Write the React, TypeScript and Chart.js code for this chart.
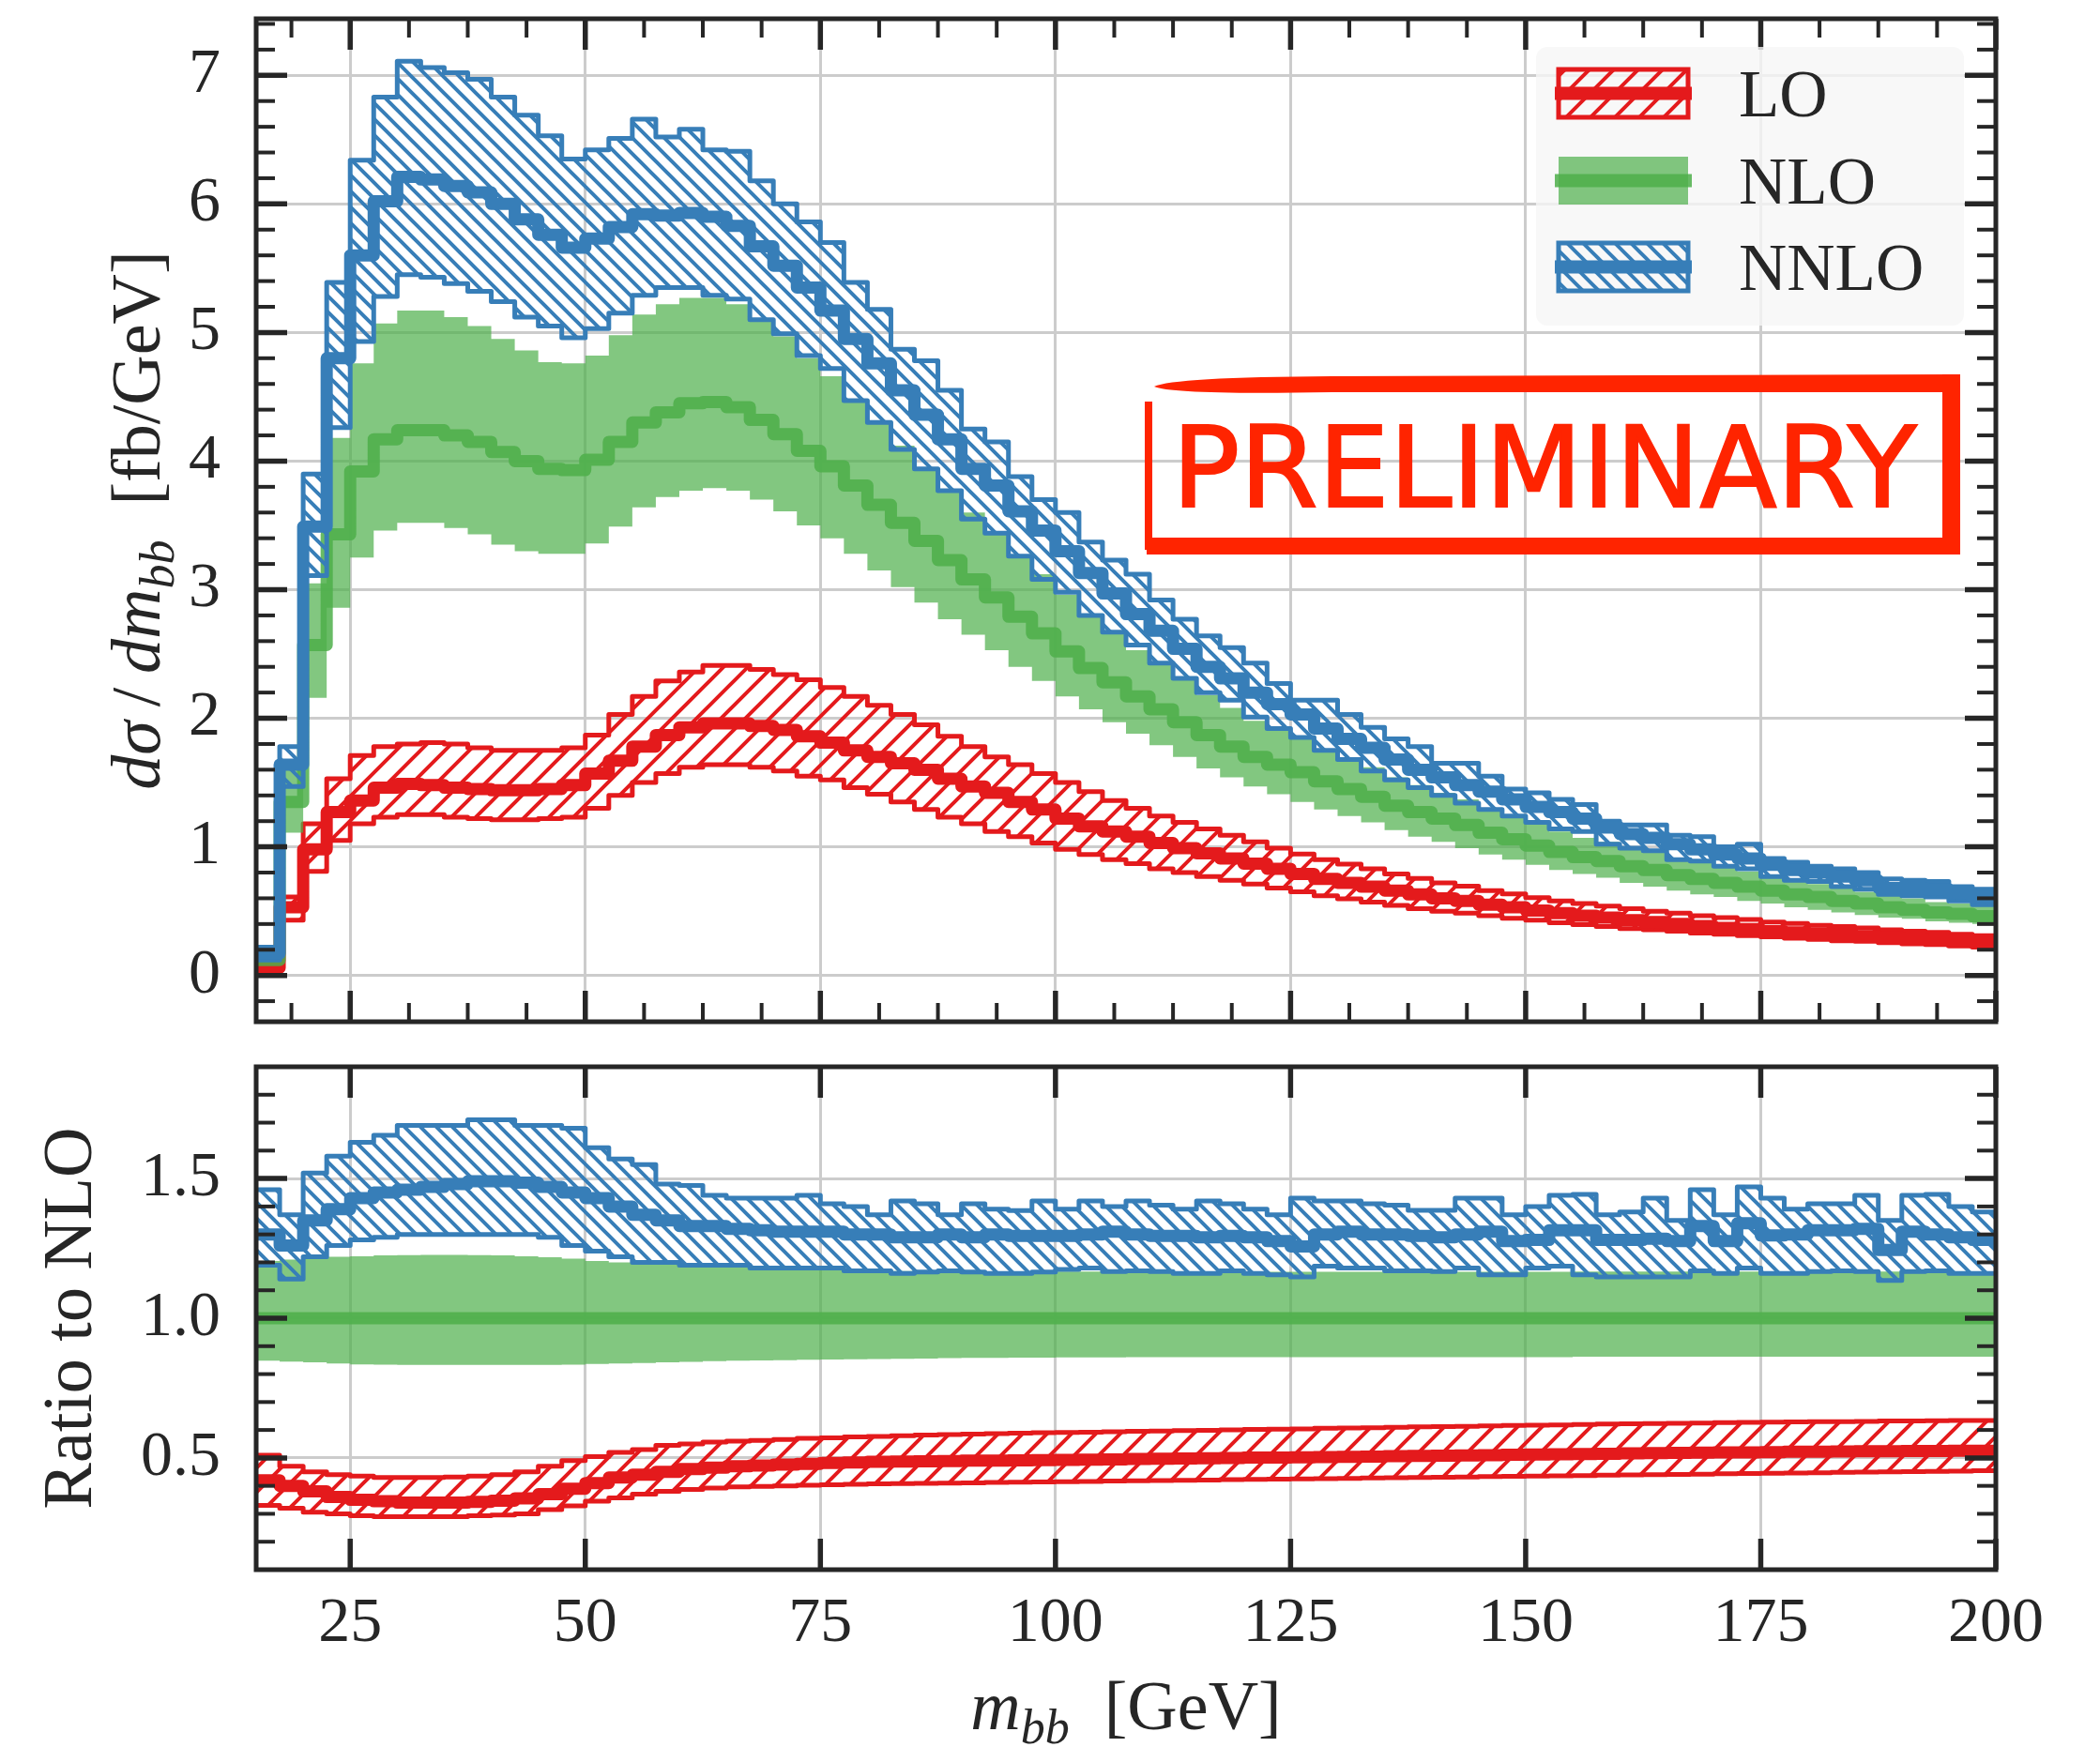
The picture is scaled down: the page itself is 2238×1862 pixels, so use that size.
import React, { useEffect, useRef } from 'react';
import { Chart, registerables } from 'chart.js';

Chart.register(...registerables);

// ---------------- data ----------------
const BIN_EDGES = [
  15, 17.5, 20, 22.5, 25, 27.5, 30, 32.5, 35, 37.5, 40, 42.5, 45, 47.5, 50, 52.5, 55, 57.5, 60, 62.5,
  65, 67.5, 70, 72.5, 75, 77.5, 80, 82.5, 85, 87.5, 90, 92.5, 95, 97.5, 100, 102.5, 105, 107.5, 110, 112.5,
  115, 117.5, 120, 122.5, 125, 127.5, 130, 132.5, 135, 137.5, 140, 142.5, 145, 147.5, 150, 152.5, 155, 157.5, 160, 162.5,
  165, 167.5, 170, 172.5, 175, 177.5, 180, 182.5, 185, 187.5, 190, 192.5, 195, 197.5, 200,
];

const X_TICKS = [25, 50, 75, 100, 125, 150, 175, 200];
const X_TICK_LABELS = ['25', '50', '75', '100', '125', '150', '175', '200'];
const Y_TICKS_MAIN = [0, 1, 2, 3, 4, 5, 6, 7];
const Y_TICK_LABELS_MAIN = ['0', '1', '2', '3', '4', '5', '6', '7'];
const Y_TICKS_RATIO = [0.5, 1.0, 1.5];
const Y_TICK_LABELS_RATIO = ['0.5', '1.0', '1.5'];
const LEGEND_LABELS = ['LO', 'NLO', 'NNLO'];

// top panel: dsigma/dm_bb [fb/GeV]
const LO_CENTRAL = [
  0.06, 0.53, 0.98, 1.27, 1.36, 1.46, 1.49, 1.48, 1.46, 1.45,
  1.44, 1.44, 1.45, 1.48, 1.57, 1.67, 1.78, 1.87, 1.93, 1.96,
  1.96, 1.94, 1.91, 1.86, 1.81, 1.75, 1.70, 1.65, 1.60, 1.53,
  1.47, 1.42, 1.35, 1.29, 1.22, 1.16, 1.12, 1.08, 1.03, 0.99,
  0.95, 0.91, 0.87, 0.83, 0.79, 0.75, 0.72, 0.69, 0.66, 0.63,
  0.60, 0.58, 0.55, 0.53, 0.505, 0.485, 0.465, 0.45, 0.43, 0.415,
  0.40, 0.385, 0.37, 0.36, 0.345, 0.335, 0.325, 0.315, 0.305, 0.295,
  0.285, 0.275, 0.265, 0.255,
];
const LO_UPPER = [
  0.10, 0.61, 1.18, 1.53, 1.71, 1.78, 1.80, 1.81, 1.80, 1.77,
  1.75, 1.75, 1.75, 1.77, 1.87, 2.03, 2.17, 2.29, 2.36, 2.41,
  2.41, 2.38, 2.34, 2.30, 2.24, 2.17, 2.10, 2.03, 1.95, 1.86,
  1.78, 1.70, 1.64, 1.57, 1.50, 1.43, 1.36, 1.30, 1.24, 1.19,
  1.14, 1.09, 1.04, 0.99, 0.945, 0.90, 0.865, 0.83, 0.79, 0.755,
  0.72, 0.695, 0.66, 0.635, 0.605, 0.58, 0.56, 0.54, 0.52, 0.50,
  0.485, 0.465, 0.45, 0.435, 0.415, 0.405, 0.39, 0.38, 0.37, 0.355,
  0.345, 0.335, 0.32, 0.31,
];
const LO_LOWER = [
  0.03, 0.43, 0.81, 1.05, 1.18, 1.23, 1.25, 1.25, 1.23, 1.22,
  1.21, 1.21, 1.22, 1.23, 1.30, 1.40, 1.50, 1.57, 1.62, 1.64,
  1.64, 1.62, 1.59, 1.55, 1.52, 1.46, 1.41, 1.35, 1.29, 1.23,
  1.18, 1.12, 1.08, 1.03, 0.98, 0.94, 0.90, 0.87, 0.83, 0.80,
  0.77, 0.74, 0.71, 0.68, 0.65, 0.62, 0.595, 0.57, 0.545, 0.52,
  0.50, 0.485, 0.465, 0.445, 0.43, 0.41, 0.395, 0.38, 0.365, 0.355,
  0.345, 0.33, 0.32, 0.31, 0.30, 0.29, 0.28, 0.27, 0.265, 0.255,
  0.245, 0.24, 0.23, 0.22,
];

const NLO_CENTRAL = [
  0.12, 1.35, 2.57, 3.43, 3.92, 4.17, 4.24, 4.24, 4.20, 4.15,
  4.07, 4.00, 3.94, 3.93, 4.01, 4.15, 4.30, 4.38, 4.45, 4.46,
  4.42, 4.32, 4.21, 4.08, 3.96, 3.81, 3.66, 3.52, 3.38, 3.23,
  3.08, 2.94, 2.79, 2.66, 2.52, 2.39, 2.28, 2.17, 2.07, 1.97,
  1.87, 1.78, 1.70, 1.64, 1.58, 1.51, 1.45, 1.39, 1.32, 1.27,
  1.22, 1.17, 1.11, 1.06, 1.01, 0.96, 0.92, 0.89, 0.85, 0.82,
  0.78, 0.75, 0.72, 0.69, 0.66, 0.63, 0.61, 0.58, 0.56, 0.53,
  0.51, 0.49, 0.48, 0.46,
];
const NLO_LOWER = [
  0.10, 1.11, 2.16, 2.86, 3.25, 3.46, 3.52, 3.52, 3.48, 3.43,
  3.35, 3.30, 3.28, 3.28, 3.36, 3.49, 3.64, 3.72, 3.77, 3.79,
  3.77, 3.70, 3.61, 3.50, 3.40, 3.28, 3.15, 3.02, 2.90, 2.77,
  2.65, 2.53, 2.40, 2.29, 2.17, 2.07, 1.97, 1.88, 1.79, 1.70,
  1.61, 1.54, 1.47, 1.41, 1.35, 1.29, 1.24, 1.19, 1.13, 1.08,
  1.04, 0.99, 0.94, 0.90, 0.86, 0.82, 0.79, 0.76, 0.72, 0.69,
  0.66, 0.63, 0.61, 0.58, 0.56, 0.53, 0.51, 0.49, 0.47, 0.45,
  0.44, 0.42, 0.41, 0.40,
];
const NLO_UPPER = [
  0.15, 1.61, 3.05, 4.18, 4.76, 5.07, 5.17, 5.17, 5.12, 5.05,
  4.95, 4.86, 4.77, 4.76, 4.82, 4.98, 5.14, 5.22, 5.27, 5.27,
  5.22, 5.10, 4.97, 4.80, 4.66, 4.47, 4.29, 4.12, 3.95, 3.77,
  3.60, 3.44, 3.27, 3.12, 2.96, 2.80, 2.66, 2.53, 2.42, 2.30,
  2.18, 2.08, 1.98, 1.91, 1.84, 1.76, 1.69, 1.62, 1.54, 1.48,
  1.42, 1.37, 1.30, 1.24, 1.18, 1.12, 1.07, 1.04, 0.99, 0.96,
  0.91, 0.88, 0.84, 0.81, 0.77, 0.74, 0.71, 0.68, 0.65, 0.62,
  0.60, 0.57, 0.56, 0.54,
];

const NNLO_CENTRAL = [
  0.17, 1.64, 3.49, 4.80, 5.60, 6.02, 6.21, 6.19, 6.14, 6.09,
  6.00, 5.88, 5.76, 5.66, 5.73, 5.82, 5.92, 5.91, 5.93, 5.90,
  5.83, 5.67, 5.52, 5.35, 5.17, 4.95, 4.76, 4.55, 4.36, 4.17,
  3.94, 3.81, 3.61, 3.46, 3.30, 3.13, 2.97, 2.81, 2.68, 2.54,
  2.40, 2.31, 2.20, 2.11, 2.03, 1.92, 1.84, 1.77, 1.68, 1.60,
  1.54, 1.48, 1.43, 1.37, 1.31, 1.27, 1.22, 1.15, 1.10, 1.07,
  1.02, 0.98, 0.94, 0.91, 0.86, 0.82, 0.80, 0.77, 0.74, 0.68,
  0.68, 0.67, 0.64, 0.61,
];
const NNLO_UPPER = [
  0.22, 1.78, 3.90, 5.39, 6.34, 6.83, 7.11, 7.06, 7.02, 6.97,
  6.83, 6.69, 6.53, 6.35, 6.42, 6.51, 6.66, 6.52, 6.58, 6.42,
  6.41, 6.18, 6.00, 5.86, 5.70, 5.39, 5.18, 4.87, 4.78, 4.55,
  4.25, 4.15, 3.88, 3.70, 3.60, 3.37, 3.23, 3.12, 2.92, 2.77,
  2.64, 2.55, 2.43, 2.27, 2.14, 2.14, 2.03, 1.93, 1.84, 1.78,
  1.65, 1.65, 1.55, 1.45, 1.42, 1.37, 1.33, 1.20, 1.17, 1.17,
  1.09, 1.08, 1.00, 1.02, 0.91, 0.88, 0.85, 0.83, 0.80, 0.75,
  0.74, 0.73, 0.69, 0.67,
];
const NNLO_LOWER = [
  0.12, 1.47, 3.11, 4.26, 4.93, 5.28, 5.45, 5.43, 5.38, 5.32,
  5.24, 5.12, 5.05, 4.96, 5.03, 5.15, 5.29, 5.35, 5.35, 5.29,
  5.26, 5.10, 4.99, 4.82, 4.72, 4.47, 4.30, 4.09, 3.94, 3.77,
  3.55, 3.44, 3.26, 3.08, 2.98, 2.80, 2.67, 2.57, 2.43, 2.31,
  2.20, 2.14, 2.01, 1.92, 1.85, 1.75, 1.68, 1.59, 1.52, 1.46,
  1.40, 1.34, 1.29, 1.24, 1.19, 1.14, 1.12, 1.02, 0.99, 0.97,
  0.90, 0.89, 0.85, 0.83, 0.77, 0.74, 0.73, 0.69, 0.67, 0.63,
  0.62, 0.61, 0.58, 0.55,
];

// bottom panel: ratio to NLO
const LO_RATIO_CENTRAL = [
  0.42, 0.40, 0.38, 0.36, 0.35, 0.345, 0.34, 0.34, 0.34, 0.343,
  0.347, 0.355, 0.37, 0.39, 0.41, 0.43, 0.44, 0.45, 0.46, 0.465,
  0.47, 0.473, 0.476, 0.479, 0.482, 0.484, 0.486, 0.487, 0.488, 0.489,
  0.49, 0.49, 0.491, 0.492, 0.493, 0.494, 0.495, 0.496, 0.497, 0.498,
  0.499, 0.50, 0.501, 0.501, 0.502, 0.503, 0.504, 0.505, 0.506, 0.507,
  0.508, 0.509, 0.51, 0.511, 0.512, 0.513, 0.514, 0.515, 0.516, 0.517,
  0.518, 0.519, 0.52, 0.52, 0.521, 0.522, 0.522, 0.523, 0.524, 0.524,
  0.525, 0.525, 0.526, 0.526,
];
const LO_RATIO_UPPER = [
  0.51, 0.47, 0.45, 0.44, 0.435, 0.43, 0.43, 0.43, 0.432, 0.435,
  0.44, 0.45, 0.47, 0.49, 0.505, 0.52, 0.53, 0.545, 0.55, 0.557,
  0.56, 0.563, 0.566, 0.57, 0.572, 0.575, 0.577, 0.579, 0.582, 0.584,
  0.585, 0.587, 0.589, 0.59, 0.591, 0.592, 0.594, 0.595, 0.596, 0.598,
  0.599, 0.60, 0.602, 0.603, 0.604, 0.606, 0.607, 0.608, 0.61, 0.611,
  0.612, 0.613, 0.615, 0.616, 0.617, 0.618, 0.62, 0.621, 0.622, 0.623,
  0.624, 0.625, 0.626, 0.627, 0.628, 0.629, 0.63, 0.63, 0.631, 0.632,
  0.632, 0.633, 0.634, 0.634,
];
const LO_RATIO_LOWER = [
  0.33, 0.32, 0.306, 0.30, 0.293, 0.29, 0.29, 0.29, 0.29, 0.293,
  0.296, 0.30, 0.315, 0.328, 0.345, 0.357, 0.37, 0.38, 0.387, 0.392,
  0.396, 0.398, 0.40, 0.402, 0.404, 0.406, 0.407, 0.408, 0.409, 0.41,
  0.411, 0.412, 0.413, 0.414, 0.415, 0.416, 0.417, 0.418, 0.419, 0.42,
  0.421, 0.422, 0.423, 0.424, 0.425, 0.426, 0.427, 0.428, 0.429, 0.43,
  0.431, 0.432, 0.433, 0.434, 0.435, 0.436, 0.437, 0.438, 0.439, 0.44,
  0.441, 0.442, 0.443, 0.444, 0.445, 0.446, 0.447, 0.448, 0.449, 0.45,
  0.451, 0.452, 0.453, 0.454,
];
const NLO_RATIO_CENTRAL = [1.0, 1.0];
const NLO_RATIO_UPPER = [
  1.205, 1.21, 1.215, 1.22, 1.222, 1.225, 1.226, 1.227, 1.227, 1.226,
  1.225, 1.222, 1.218, 1.213, 1.205, 1.20, 1.196, 1.192, 1.189, 1.186,
  1.183, 1.18, 1.178, 1.175, 1.172, 1.171, 1.17, 1.169, 1.169, 1.168,
  1.168, 1.168, 1.167, 1.167, 1.167, 1.167, 1.167, 1.167, 1.166, 1.166,
  1.166, 1.166, 1.166, 1.166, 1.166, 1.166, 1.166, 1.166, 1.166, 1.166,
  1.166, 1.166, 1.166, 1.166, 1.166, 1.166, 1.167, 1.167, 1.167, 1.167,
  1.167, 1.167, 1.167, 1.167, 1.167, 1.167, 1.167, 1.167, 1.167, 1.167,
  1.167, 1.167, 1.167, 1.167,
];
const NLO_RATIO_LOWER = [
  0.848, 0.845, 0.842, 0.838, 0.835, 0.834, 0.833, 0.833, 0.833, 0.833,
  0.833, 0.833, 0.833, 0.834, 0.836, 0.838, 0.84, 0.842, 0.844, 0.846,
  0.848, 0.849, 0.85, 0.851, 0.852, 0.853, 0.854, 0.855, 0.856, 0.857,
  0.858, 0.858, 0.859, 0.859, 0.86, 0.86, 0.86, 0.861, 0.861, 0.861,
  0.861, 0.861, 0.861, 0.861, 0.861, 0.861, 0.861, 0.861, 0.861, 0.861,
  0.861, 0.861, 0.861, 0.861, 0.861, 0.861, 0.862, 0.862, 0.862, 0.862,
  0.862, 0.862, 0.862, 0.862, 0.862, 0.862, 0.862, 0.862, 0.862, 0.862,
  0.862, 0.862, 0.862, 0.862,
];
const NNLO_RATIO_CENTRAL = [
  1.30, 1.26, 1.35, 1.39, 1.43, 1.45, 1.46, 1.47, 1.48, 1.49,
  1.49, 1.485, 1.47, 1.45, 1.43, 1.40, 1.37, 1.35, 1.33, 1.33,
  1.32, 1.315, 1.31, 1.31, 1.31, 1.30, 1.30, 1.29, 1.29, 1.30,
  1.29, 1.30, 1.295, 1.295, 1.295, 1.30, 1.31, 1.30, 1.295, 1.295,
  1.29, 1.295, 1.29, 1.276, 1.257, 1.30, 1.31, 1.30, 1.30, 1.295,
  1.29, 1.30, 1.31, 1.276, 1.28, 1.315, 1.315, 1.28, 1.28, 1.285,
  1.276, 1.33, 1.276, 1.34, 1.296, 1.30, 1.315, 1.315, 1.32, 1.244,
  1.31, 1.30, 1.29, 1.28,
];
const NNLO_RATIO_UPPER = [
  1.46, 1.37, 1.52, 1.58, 1.63, 1.655, 1.69, 1.69, 1.69, 1.71,
  1.71, 1.69, 1.69, 1.68, 1.61, 1.57, 1.55, 1.48, 1.475, 1.44,
  1.43, 1.43, 1.43, 1.44, 1.41, 1.40, 1.37, 1.42, 1.41, 1.37,
  1.41, 1.39, 1.385, 1.42, 1.39, 1.42, 1.40, 1.42, 1.405, 1.39,
  1.42, 1.41, 1.39, 1.37, 1.43, 1.42, 1.42, 1.41, 1.405, 1.386,
  1.386, 1.43, 1.43, 1.37, 1.40, 1.44, 1.443, 1.37, 1.38, 1.43,
  1.35, 1.46, 1.37, 1.47, 1.43, 1.39, 1.41, 1.41, 1.44, 1.35,
  1.44, 1.443, 1.40, 1.38,
];
const NNLO_RATIO_LOWER = [
  1.19, 1.14, 1.22, 1.26, 1.28, 1.29, 1.30, 1.30, 1.30, 1.30,
  1.30, 1.30, 1.29, 1.26, 1.24, 1.22, 1.20, 1.20, 1.19, 1.19,
  1.19, 1.18, 1.18, 1.18, 1.18, 1.17, 1.17, 1.16, 1.165, 1.17,
  1.165, 1.16, 1.16, 1.165, 1.175, 1.18, 1.167, 1.17, 1.167, 1.16,
  1.16, 1.17, 1.16, 1.155, 1.148, 1.186, 1.18, 1.18, 1.17, 1.17,
  1.167, 1.18, 1.155, 1.155, 1.18, 1.186, 1.155, 1.148, 1.148, 1.148,
  1.148, 1.17, 1.16, 1.18, 1.16, 1.16, 1.167, 1.17, 1.167, 1.135,
  1.167, 1.17, 1.16, 1.16,
];

// ---------------- style / geometry ----------------
const SERIF = "'Liberation Serif', 'DejaVu Serif', serif";
const INK = '#262626';
const GRID = '#cccccc';
const RED = '#e41a1c';
const BLUE = '#377eb8';
const GREEN_BAND = 'rgba(77,175,74,0.7)';
const GREEN_LINE = 'rgba(77,175,74,0.85)';
const STAMP = 'rgb(255,36,0)';
const NONE = 'rgba(0,0,0,0)';

const W = 2238;
const TOP_H = 1110;
const BOT_H = 752;
const AREA_L = 273;
const AREA_R = 2127;
const TOP_T = 20;
const TOP_B = 1089;
const BOT_T = 27;
const BOT_B = 563;
const TICK_FONT = 68;
const LEGEND_FONT = 71;
const LABEL_FONT = 74;

const X_MIN = BIN_EDGES[0];
const X_MAX = BIN_EDGES[BIN_EDGES.length - 1];

const minorList = (from: number, to: number, step: number, majorEvery: number) => {
  const out: number[] = [];
  const n = Math.round((to - from) / step);
  for (let k = 0; k <= n; k++) {
    const idx = Math.round(from / step) + k;
    if (idx % majorEvery !== 0) out.push(idx * step);
  }
  return out;
};

// histogram: value of bin i holds from BIN_EDGES[i] to BIN_EDGES[i+1]
const steps = (vals: number[]) => {
  const pts = vals.map((v, i) => ({ x: BIN_EDGES[i], y: v }));
  pts.push({ x: BIN_EDGES[vals.length], y: vals[vals.length - 1] });
  return pts;
};

function makeHatch(ctx: CanvasRenderingContext2D, color: string, s: number, lw: number, dir: string) {
  const c = document.createElement('canvas');
  c.width = s;
  c.height = s;
  const g = c.getContext('2d')!;
  g.strokeStyle = color;
  g.lineWidth = lw;
  g.beginPath();
  if (dir === '/') {
    g.moveTo(-s / 2, s / 2); g.lineTo(s / 2, -s / 2);
    g.moveTo(0, s); g.lineTo(s, 0);
    g.moveTo(s / 2, (3 * s) / 2); g.lineTo((3 * s) / 2, s / 2);
  } else {
    g.moveTo(0, 0); g.lineTo(s, s);
    g.moveTo(-s / 2, s / 2); g.lineTo(s / 2, (3 * s) / 2);
    g.moveTo(s / 2, -s / 2); g.lineTo((3 * s) / 2, s / 2);
  }
  g.stroke();
  return ctx.createPattern(c, 'repeat')!;
}

const lineDs = (data: any[], color: string, width: number, order: number, extra: any = {}) => ({
  data,
  stepped: 'before',
  borderColor: color,
  borderWidth: width,
  borderJoinStyle: 'round',
  borderCapStyle: 'butt',
  pointRadius: 0,
  fill: false,
  order,
  clip: 0,
  ...extra,
});

type Seg = { t: string; it?: boolean; sub?: boolean };
function drawRich(ctx: CanvasRenderingContext2D, segs: Seg[], x: number, y: number, size: number) {
  const fontOf = (s: Seg) => `${s.it ? 'italic ' : ''}${s.sub ? Math.round(size * 0.7) : size}px ${SERIF}`;
  let total = 0;
  const widths = segs.map((s) => {
    ctx.font = fontOf(s);
    const w = ctx.measureText(s.t).width;
    total += w;
    return w;
  });
  let cx = x - total / 2;
  ctx.textAlign = 'left';
  ctx.textBaseline = 'alphabetic';
  ctx.fillStyle = INK;
  segs.forEach((s, i) => {
    ctx.font = fontOf(s);
    ctx.fillText(s.t, cx, y + (s.sub ? size * 0.2 : 0));
    cx += widths[i];
  });
}

function framePlugin(xMajor: number[], xMinor: number[], yMajor: number[], yMinor: number[]) {
  return {
    id: 'frame',
    afterDraw(chart: any) {
      const { ctx, chartArea: a, scales } = chart;
      const xs = scales.x;
      const ys = scales.y;
      ctx.save();
      ctx.strokeStyle = INK;
      ctx.lineCap = 'butt';
      const seg = (x1: number, y1: number, x2: number, y2: number) => {
        ctx.beginPath();
        ctx.moveTo(x1, y1);
        ctx.lineTo(x2, y2);
        ctx.stroke();
      };
      const drawX = (vals: number[], len: number, w: number) => {
        ctx.lineWidth = w;
        vals.forEach((v) => {
          const p = xs.getPixelForValue(v);
          seg(p, a.bottom, p, a.bottom - len);
          seg(p, a.top, p, a.top + len);
        });
      };
      const drawY = (vals: number[], len: number, w: number) => {
        ctx.lineWidth = w;
        vals.forEach((v) => {
          const p = ys.getPixelForValue(v);
          seg(a.left, p, a.left + len, p);
          seg(a.right, p, a.right - len, p);
        });
      };
      drawX(xMinor, 20, 4);
      drawX(xMajor, 33, 5.5);
      drawY(yMinor, 20, 4);
      drawY(yMajor, 33, 5.5);
      ctx.lineWidth = 5;
      ctx.strokeRect(a.left, a.top, a.right - a.left, a.bottom - a.top);
      ctx.restore();
    },
  };
}

function scalesFor(yMin: number, yMax: number, yTicks: number[], yLabels: string[], canvasH: number, areaB: number, showX: boolean) {
  return {
    x: {
      type: 'linear',
      min: X_MIN,
      max: X_MAX,
      bounds: 'data',
      afterBuildTicks: (s: any) => { s.ticks = X_TICKS.map((v) => ({ value: v })); },
      afterFit: (s: any) => { s.height = canvasH - areaB; s.paddingLeft = 0; s.paddingRight = 0; },
      grid: { color: GRID, lineWidth: 3, drawTicks: false },
      border: { display: false },
      ticks: {
        display: showX,
        autoSkip: false,
        maxRotation: 0,
        minRotation: 0,
        padding: 17,
        color: INK,
        font: { family: SERIF, size: TICK_FONT },
        callback: (_v: any, i: number) => X_TICK_LABELS[i],
      },
    },
    y: {
      type: 'linear',
      min: yMin,
      max: yMax,
      bounds: 'data',
      afterBuildTicks: (s: any) => { s.ticks = yTicks.map((v) => ({ value: v })); },
      afterFit: (s: any) => { s.width = AREA_L; s.paddingTop = 0; s.paddingBottom = 0; },
      grid: { color: GRID, lineWidth: 3, drawTicks: false },
      border: { display: false },
      ticks: {
        autoSkip: false,
        padding: 38,
        color: INK,
        font: { family: SERIF, size: TICK_FONT },
        callback: (_v: any, i: number) => yLabels[i],
      },
    },
  };
}

const baseOptions = (padTop: number) => ({
  animation: false,
  responsive: false,
  devicePixelRatio: 1,
  events: [],
  layout: { autoPadding: false, padding: { left: 0, right: W - AREA_R, top: padTop, bottom: 0 } },
  plugins: { legend: { display: false }, tooltip: { enabled: false }, title: { display: false } },
});

function topChart(canvas: HTMLCanvasElement) {
  const ctx = canvas.getContext('2d')!;
  const redHatch = makeHatch(ctx, RED, 26, 4, '/');
  const blueHatch = makeHatch(ctx, BLUE, 17, 4, '\\');
  const datasets = [
    lineDs(steps(LO_LOWER), RED, 5, 90),
    lineDs(steps(LO_UPPER), RED, 5, 89, { fill: { target: 0 }, backgroundColor: redHatch }),
    lineDs(steps(LO_CENTRAL), RED, 13, 80),
    lineDs(steps(NLO_LOWER), NONE, 1, 70),
    lineDs(steps(NLO_UPPER), NONE, 1, 69, { fill: { target: 3 }, backgroundColor: GREEN_BAND }),
    lineDs(steps(NLO_CENTRAL), GREEN_LINE, 13, 60),
    lineDs(steps(NNLO_LOWER), BLUE, 5, 50),
    lineDs(steps(NNLO_UPPER), BLUE, 5, 49, { fill: { target: 6 }, backgroundColor: blueHatch }),
    lineDs(steps(NNLO_CENTRAL), BLUE, 13, 40),
  ];
  const decor = {
    id: 'topDecor',
    afterDraw(chart: any) {
      const c: CanvasRenderingContext2D = chart.ctx;
      c.save();
      // legend
      c.fillStyle = 'rgba(246,246,246,0.8)';
      c.beginPath();
      (c as any).roundRect(1637, 50, 456, 297, 12);
      c.fill();
      const rows = [
        { y: 74, hatch: redHatch, color: RED, line: RED },
        { y: 167, hatch: null, color: GREEN_BAND, line: GREEN_LINE },
        { y: 259, hatch: blueHatch, color: BLUE, line: BLUE },
      ];
      rows.forEach((r, i) => {
        if (r.hatch) {
          c.fillStyle = r.hatch;
          c.fillRect(1661, r.y, 138, 51);
          c.strokeStyle = r.color;
          c.lineWidth = 5;
          c.strokeRect(1661, r.y, 138, 51);
        } else {
          c.fillStyle = r.color;
          c.fillRect(1661, r.y, 138, 51);
        }
        c.strokeStyle = r.line;
        c.lineWidth = 14;
        c.lineCap = 'butt';
        c.beginPath();
        c.moveTo(1657, r.y + 25.5);
        c.lineTo(1803, r.y + 25.5);
        c.stroke();
        c.fillStyle = INK;
        c.font = `${LEGEND_FONT}px ${SERIF}`;
        c.textAlign = 'left';
        c.textBaseline = 'alphabetic';
        c.fillText(LEGEND_LABELS[i], 1853, r.y + 50);
      });
      // PRELIMINARY stamp
      c.fillStyle = STAMP;
      c.beginPath();
      c.moveTo(1230, 412);
      c.quadraticCurveTo(1250, 402, 1420, 401);
      c.lineTo(2089, 399);
      c.lineTo(2089, 418);
      c.lineTo(1420, 418);
      c.quadraticCurveTo(1250, 421, 1230, 412);
      c.fill();
      c.fillRect(2070, 399, 19, 192);
      c.fillRect(1222, 573, 867, 18);
      c.fillRect(1220, 428, 8, 158);
      c.font = "120px 'DejaVu Sans', sans-serif";
      c.textAlign = 'left';
      c.textBaseline = 'alphabetic';
      c.fillText('PRELIMINARY', 1249, 540);
      c.strokeStyle = STAMP;
      c.lineWidth = 2;
      c.strokeText('PRELIMINARY', 1249, 540);
      // y title
      c.translate(170, (TOP_T + TOP_B) / 2);
      c.rotate(-Math.PI / 2);
      drawRich(c, [
        { t: 'd\u03c3', it: true },
        { t: '\u2009/\u2009' },
        { t: 'dm', it: true },
        { t: 'bb', it: true, sub: true },
        { t: '  [fb/GeV]' },
      ], 0, 0, LABEL_FONT);
      c.restore();
    },
  };
  return new Chart(canvas, {
    type: 'line',
    data: { datasets } as any,
    options: {
      ...baseOptions(TOP_T),
      scales: scalesFor(-0.36, 7.44, Y_TICKS_MAIN, Y_TICK_LABELS_MAIN, TOP_H, TOP_B, false),
    } as any,
    plugins: [
      framePlugin(X_TICKS, minorList(18.75, 193.75, 6.25, 4), Y_TICKS_MAIN, minorList(-0.2, 7.4, 0.2, 5)),
      decor,
    ] as any,
  });
}

function bottomChart(canvas: HTMLCanvasElement) {
  const ctx = canvas.getContext('2d')!;
  const redHatch = makeHatch(ctx, RED, 26, 4, '/');
  const blueHatch = makeHatch(ctx, BLUE, 17, 4, '\\');
  const nloLine = [{ x: X_MIN, y: NLO_RATIO_CENTRAL[0] }, { x: X_MAX, y: NLO_RATIO_CENTRAL[1] }];
  const datasets = [
    lineDs(steps(LO_RATIO_LOWER), RED, 5, 90),
    lineDs(steps(LO_RATIO_UPPER), RED, 5, 89, { fill: { target: 0 }, backgroundColor: redHatch }),
    lineDs(steps(LO_RATIO_CENTRAL), RED, 13, 80),
    lineDs(steps(NLO_RATIO_LOWER), NONE, 1, 70),
    lineDs(steps(NLO_RATIO_UPPER), NONE, 1, 69, { fill: { target: 3 }, backgroundColor: GREEN_BAND }),
    lineDs(nloLine, GREEN_LINE, 13, 60, { stepped: false }),
    lineDs(steps(NNLO_RATIO_LOWER), BLUE, 5, 50),
    lineDs(steps(NNLO_RATIO_UPPER), BLUE, 5, 49, { fill: { target: 6 }, backgroundColor: blueHatch }),
    lineDs(steps(NNLO_RATIO_CENTRAL), BLUE, 13, 40),
  ];
  const decor = {
    id: 'botDecor',
    afterDraw(chart: any) {
      const c: CanvasRenderingContext2D = chart.ctx;
      c.save();
      drawRich(c, [
        { t: 'm', it: true },
        { t: 'bb', it: true, sub: true },
        { t: '  [GeV]' },
      ], (AREA_L + AREA_R) / 2, 733, LABEL_FONT);
      c.translate(97, (BOT_T + BOT_B) / 2);
      c.rotate(-Math.PI / 2);
      drawRich(c, [{ t: 'Ratio to NLO' }], 0, 0, LABEL_FONT);
      c.restore();
    },
  };
  return new Chart(canvas, {
    type: 'line',
    data: { datasets } as any,
    options: {
      ...baseOptions(BOT_T),
      scales: scalesFor(0.1, 1.9, Y_TICKS_RATIO, Y_TICK_LABELS_RATIO, BOT_H, BOT_B, true),
    } as any,
    plugins: [
      framePlugin(X_TICKS, [], Y_TICKS_RATIO, minorList(0.1, 1.9, 0.1, 5)),
      decor,
    ] as any,
  });
}

export default function App() {
  const topRef = useRef<HTMLCanvasElement>(null);
  const botRef = useRef<HTMLCanvasElement>(null);
  useEffect(() => {
    const a = topChart(topRef.current!);
    const b = bottomChart(botRef.current!);
    return () => {
      a.destroy();
      b.destroy();
    };
  }, []);
  return (
    <div style={{ position: 'absolute', left: 0, top: 0, width: W, height: TOP_H + BOT_H, background: '#ffffff' }}>
      <canvas ref={topRef} width={W} height={TOP_H} style={{ position: 'absolute', left: 0, top: 0, width: W, height: TOP_H }} />
      <canvas ref={botRef} width={W} height={BOT_H} style={{ position: 'absolute', left: 0, top: TOP_H, width: W, height: BOT_H }} />
    </div>
  );
}
